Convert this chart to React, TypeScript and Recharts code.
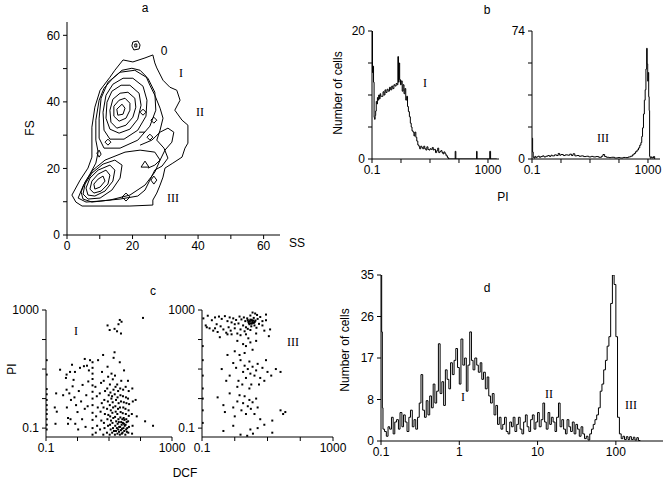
import { ScatterChart, Scatter, LineChart, Line, XAxis, YAxis } from "recharts";

const FONT = "Liberation Sans, Arial, Helvetica, sans-serif";
const SERIF = "Liberation Serif, Times New Roman, serif";

// ---- panel a: contour lines, [SS, FS] ----
const contourOuter = [
  [1.5, 12.0], [4.0, 16.5], [6.4, 20.1], [7.6, 23.4], [7.6, 32.4], [8.5, 38.4], [10.1, 43.5], [13.1, 47.4],
  [14.6, 49.5], [17.1, 52.6], [20.1, 52.0], [23.8, 53.2], [26.2, 54.1], [26.8, 51.7], [27.4, 50.2], [29.3, 46.5],
  [31.4, 44.4], [33.5, 43.5], [34.5, 40.5], [32.9, 37.5], [35.1, 34.5], [36.9, 33.0], [36.9, 27.6], [36.0, 26.1],
  [35.1, 23.4], [32.3, 21.6], [29.9, 20.1], [29.3, 17.4], [28.4, 15.0], [27.4, 12.6], [26.2, 10.5], [26.2, 9.0],
  [19.2, 8.7], [10.1, 8.7], [4.6, 8.7], [2.7, 9.9], [1.5, 12.0],
];
const contourBoth = [
  [3.4, 11.1], [4.9, 14.7], [7.0, 18.3], [8.8, 21.6], [9.5, 24.9], [8.8, 28.5], [8.8, 34.5], [9.8, 40.5],
  [11.3, 44.1], [14.0, 47.1], [16.8, 49.5], [19.8, 50.1], [22.3, 49.5], [24.1, 47.7], [25.3, 45.0], [26.8, 42.0],
  [28.4, 38.1], [29.3, 35.1], [28.4, 31.5], [27.4, 28.5], [29.6, 26.1], [30.8, 23.1], [29.0, 20.7], [26.8, 19.5],
  [25.3, 16.5], [23.8, 13.5], [21.6, 11.7], [16.2, 10.8], [10.1, 10.2], [5.8, 9.9], [3.4, 11.1],
];
const upperC = [
  [20.7, 49.5], [24.7, 47.1], [26.8, 42.9], [27.1, 37.5], [25.3, 32.7], [21.6, 28.5], [16.2, 26.1], [11.3, 26.1],
  [9.8, 29.1], [9.8, 35.1], [10.4, 41.1], [12.5, 45.9], [16.2, 48.9], [20.7, 49.5],
];
const upperB = [
  [20.1, 47.1], [23.2, 44.7], [24.4, 40.5], [24.1, 35.7], [21.6, 31.5], [17.4, 28.8], [13.1, 28.8], [11.3, 31.5],
  [11.0, 36.9], [11.9, 42.0], [14.0, 45.3], [17.1, 47.1], [20.1, 47.1],
];
const upperA = [
  [19.2, 45.0], [22.0, 42.6], [22.6, 39.0], [21.6, 34.8], [19.2, 31.8], [15.9, 30.6], [13.1, 31.8], [11.9, 35.1],
  [12.2, 39.9], [13.7, 43.2], [16.5, 45.0], [19.2, 45.0],
];
const upperCore1 = [
  [18.6, 42.9], [20.7, 41.1], [21.0, 38.4], [20.1, 35.4], [18.0, 33.0], [15.2, 32.1], [13.4, 33.9], [13.1, 37.5],
  [14.0, 40.8], [16.2, 42.6], [18.6, 42.9],
];
const upperCore2 = [
  [17.7, 41.1], [19.2, 39.6], [19.2, 37.5], [18.0, 35.1], [15.9, 34.2], [14.3, 35.7], [14.3, 38.7], [15.9, 40.5], [17.7, 41.1],
];
const upperCore3 = [[16.8, 39.3], [17.7, 38.1], [17.1, 36.3], [15.5, 36.0], [15.2, 37.8], [16.8, 39.3]];
const lowerC = [
  [17.7, 24.9], [22.3, 25.5], [26.8, 24.9], [28.4, 22.5], [26.8, 18.9], [23.8, 15.0], [19.2, 12.0], [13.1, 10.5],
  [7.6, 9.9], [4.9, 10.8], [4.3, 12.9], [5.5, 15.9], [7.9, 19.5], [11.6, 22.5], [17.7, 24.9],
];
const lowerB = [
  [14.6, 22.5], [16.8, 21.0], [16.2, 17.1], [13.7, 13.5], [10.1, 11.1], [6.4, 10.8], [4.9, 12.3], [5.5, 15.3],
  [7.6, 18.6], [11.0, 21.3], [14.6, 22.5],
];
const lowerA = [
  [13.1, 21.0], [14.6, 19.5], [14.0, 16.2], [11.6, 13.2], [8.5, 11.7], [6.4, 12.0], [5.8, 14.1], [7.0, 17.1], [9.5, 19.5], [13.1, 21.0],
];
const lowerCore1 = [
  [11.9, 19.5], [13.1, 18.0], [12.5, 15.3], [10.4, 13.2], [8.2, 12.6], [7.0, 13.8], [7.6, 16.2], [9.5, 18.3], [11.9, 19.5],
];
const lowerCore2 = [[11.0, 17.7], [11.6, 16.2], [10.1, 14.4], [8.5, 13.8], [8.2, 15.3], [9.5, 16.8], [11.0, 17.7]];
const midPath = [
  [22.3, 27.0], [25.9, 28.5], [28.4, 30.9], [30.8, 32.1], [32.6, 30.9], [32.0, 27.9], [29.9, 25.5], [28.4, 22.5], [26.8, 21.0], [24.7, 20.1],
];
const blobTop = [[20.1, 58.0], [21.6, 58.3], [22.3, 57.1], [22.0, 55.9], [20.4, 55.6], [19.8, 56.8], [20.1, 58.0]];
const blobTopIn = [[20.7, 57.4], [21.3, 57.4], [21.3, 56.5], [20.7, 56.5], [20.7, 57.4]];
const blob1 = [[26.5, 35.4], [27.4, 34.5], [26.5, 33.6], [25.6, 34.5], [26.5, 35.4]];
const blob2 = [[23.2, 37.8], [24.1, 36.9], [23.2, 36.0], [22.3, 36.9], [23.2, 37.8]];
const blob3 = [[12.5, 28.8], [13.4, 27.9], [12.5, 27.0], [11.6, 27.9], [12.5, 28.8]];
const blob4 = [[9.8, 25.5], [10.4, 24.3], [9.8, 23.4], [9.1, 24.6], [9.8, 25.5]];
const blob5 = [[23.8, 22.2], [25.0, 20.4], [22.6, 20.4], [23.8, 22.2]];
const blob6 = [[26.5, 17.7], [27.4, 16.5], [26.5, 15.3], [25.6, 16.5], [26.5, 17.7]];
const blob7 = [[18.0, 12.6], [19.2, 11.4], [18.0, 10.2], [16.8, 11.4], [18.0, 12.6]];
const blob8 = [[25.3, 30.3], [26.2, 29.4], [25.3, 28.5], [24.4, 29.4], [25.3, 30.3]];
const dash1 = [[22.0, 30.9], [23.8, 30.9]];
const aTicks = [0, 10, 20, 30, 40, 50, 60];

// ---- panel b: PI histograms, [PI, cells] ----
const bLeftHist = [
  [0.1, 20], [0.104, 13.5], [0.108, 14.5], [0.113, 12], [0.118, 6.5], [0.123, 6.2], [0.128, 6.8], [0.134, 7.5],
  [0.14, 9], [0.147, 8.6], [0.154, 9.6], [0.162, 9.2], [0.17, 10], [0.18, 9.4], [0.19, 10.2], [0.2, 9.8],
  [0.22, 9.8], [0.24, 10.5], [0.26, 10], [0.28, 10.8], [0.3, 10.4], [0.33, 10.9], [0.36, 10.6], [0.4, 11.2],
  [0.44, 10.8], [0.48, 11.4], [0.52, 11], [0.57, 11.6], [0.62, 11.4], [0.68, 11.8], [0.74, 11.6], [0.78, 16],
  [0.82, 12], [0.86, 15], [0.9, 12.4], [0.96, 11.6], [1.02, 12.2], [1.1, 10.6], [1.18, 11.6], [1.27, 10.2],
  [1.36, 11], [1.46, 9.2], [1.57, 9.8], [1.68, 8.2], [1.8, 7.4], [1.95, 6.6], [2.1, 5.6], [2.25, 5],
  [2.4, 4.4], [2.6, 4.2], [2.8, 3.6], [3, 4.2], [3.25, 3.4], [3.5, 2.8], [3.8, 2.2], [4.1, 2],
  [4.4, 1.6], [4.8, 2], [5.2, 1.8], [5.6, 1.6], [6.1, 2], [6.6, 1.6], [7.2, 1.4], [7.8, 1.9],
  [8.5, 1.5], [9.2, 1.4], [10, 1.6], [11, 1.5], [12, 1.8], [13, 1.4], [14, 1.5], [15.5, 1],
  [17, 1.3], [18.5, 1.7], [20, 1], [22, 1.2], [24, 1.3], [26, 1], [28, 0.8], [30, 1.1],
  [33, 0.8], [36, 0.5], [40, 0.2], [44, 0], [72, 0], [74, 1.2], [78, 0], [395, 0],
  [405, 1.2], [420, 0], [1100, 0], [1150, 1.2], [1230, 0], [2000, 0],
];
const bRightHist = [
  [0.1, 12], [0.105, 4], [0.11, 1], [0.118, 0.5], [0.125, 1.5], [0.135, 0.8], [0.145, 1.2], [0.16, 1.6],
  [0.18, 1], [0.2, 1.4], [0.23, 1.8], [0.26, 1.2], [0.3, 1.6], [0.35, 2], [0.4, 1.5], [0.45, 2.2],
  [0.5, 1.8], [0.6, 2.4], [0.7, 2], [0.8, 3.2], [0.9, 2.2], [1, 2.6], [1.2, 2], [1.4, 2.4],
  [1.7, 2.2], [2, 2.8], [2.3, 2], [2.6, 3], [3, 1.8], [3.5, 2], [4.2, 1.6], [5, 1.8],
  [6, 1.4], [7.5, 1.6], [9, 1.2], [11, 1.5], [13, 1.2], [16, 1.4], [20, 1], [25, 1.6],
  [28, 2.6], [32, 1.4], [37, 1], [45, 0.8], [55, 1], [70, 0.6], [90, 0.8], [110, 0.6],
  [140, 0.9], [170, 0.8], [210, 1.2], [250, 1.6], [290, 2.4], [330, 3.2], [370, 4.2], [420, 5.2],
  [470, 6.4], [520, 8], [570, 9.5], [610, 13], [650, 18], [700, 26], [750, 34], [800, 40],
  [850, 52], [900, 64], [940, 55], [980, 45], [1020, 50], [1060, 36], [1100, 28], [1140, 1.5],
  [1200, 0.5], [1300, 1.2], [1400, 0.6], [1550, 1.4], [1700, 0],
];

// ---- panel c: DCF vs PI dot plots, [DCF, PI] ----
const cLeftDots = [
  [0.105, 20], [0.105, 6.5], [0.105, 2.1], [0.105, 1.4], [0.105, 0.9], [0.105, 0.6], [0.105, 0.42], [0.105, 0.3],
  [0.105, 0.2], [0.105, 0.13], [0.105, 0.09], [0.19, 0.5], [0.2, 0.14], [0.22, 0.36], [0.21, 1.5], [0.35, 1.3],
  [0.46, 0.5], [0.5, 0.14], [0.5, 0.22], [0.28, 9.5], [0.43, 5], [0.58, 8], [0.67, 14], [0.83, 8],
  [1.2, 11], [1.6, 12.5], [2.0, 13], [2.3, 9], [1.7, 22], [2.5, 20], [4.5, 20], [0.45, 6.5],
  [0.75, 4.3], [0.45, 2], [0.55, 1.5], [0.62, 0.9], [0.7, 2.6], [0.8, 1.1], [0.9, 0.6], [1.0, 0.35],
  [1.1, 1.8], [1.3, 0.8], [1.45, 2.9], [1.7, 0.45], [1.9, 1.3], [0.6, 0.2], [0.85, 0.14], [1.05, 0.09],
  [1.4, 0.2], [1.8, 0.11], [2.1, 0.55], [2.2, 3.8], [3, 0.06], [3, 0.1], [3, 0.19], [3, 0.33],
  [3, 0.6], [3, 1.0], [3, 1.7], [3, 2.8], [3, 4.6], [3, 7], [3, 11], [3, 17],
  [9, 300], [10.5, 210], [15, 230], [20, 330], [22, 460], [25, 400], [24, 160], [18, 190],
  [15, 37], [22, 17], [120, 540], [250, 0.12], [140, 0.17], [6, 8], [9, 12], [12, 7],
  [14, 24], [6.5, 30], [30, 9], [40, 4], [3.8, 0.07], [4.2, 0.12], [3.9, 0.25], [4.4, 0.5],
  [4.1, 1.2], [3.7, 2.5], [5.2, 0.09], [5.7, 0.18], [5.4, 0.36], [5.9, 0.7], [5.1, 1.5], [5.6, 3.4],
  [6.6, 0.06], [7.2, 0.1], [6.9, 0.15], [7.4, 0.3], [6.7, 0.5], [7.1, 0.9], [7.5, 1.8], [6.8, 4],
  [8.6, 0.07], [9.3, 0.12], [8.9, 0.2], [9.5, 0.28], [8.7, 0.45], [9.2, 0.8], [9.8, 1.3], [8.8, 2.2],
  [9.4, 5.5], [10.5, 0.06], [11.3, 0.09], [10.8, 0.13], [11.6, 0.18], [10.9, 0.25], [11.4, 0.4], [10.6, 0.6],
  [11.9, 1], [11.1, 1.6], [10.7, 3], [12.6, 0.07], [13.4, 0.1], [12.9, 0.15], [13.7, 0.22], [12.8, 0.33],
  [13.5, 0.5], [13.1, 0.75], [12.5, 1.2], [13.9, 2], [13.2, 4.5], [15.4, 0.06], [16.6, 0.08], [15.8, 0.12],
  [16.9, 0.17], [15.6, 0.24], [16.3, 0.36], [15.9, 0.55], [16.7, 0.9], [15.2, 1.4], [16.1, 2.5], [15.5, 6],
  [18.5, 0.065], [19.6, 0.09], [18.8, 0.14], [19.9, 0.2], [18.4, 0.3], [19.3, 0.45], [20.2, 0.7], [18.7, 1.1],
  [19.5, 1.8], [18.2, 3], [22.1, 0.06], [23.8, 0.085], [22.6, 0.11], [24.3, 0.16], [22.9, 0.23], [23.4, 0.35],
  [22.3, 0.5], [24, 0.8], [23.1, 1.3], [22.7, 2.2], [24.5, 4], [27, 0.07], [28.8, 0.1], [27.6, 0.15],
  [29.2, 0.22], [27.3, 0.32], [28.4, 0.5], [29.5, 0.75], [27.8, 1.2], [28.1, 2], [33, 0.06], [35, 0.09],
  [33.6, 0.13], [35.4, 0.2], [34.2, 0.3], [33.3, 0.45], [35.8, 0.7], [34.5, 1.1], [33.8, 2.5], [41, 0.07],
  [43, 0.11], [40.5, 0.17], [42.5, 0.26], [41.8, 0.4], [43.5, 0.65], [40.2, 1], [42.2, 1.8], [54, 0.065],
  [56, 0.12], [53, 0.3], [57, 0.8], [55, 2.2], [70, 0.9], [76, 0.25], [20.8, 0.075], [25.5, 0.065],
  [30.5, 0.08], [26, 0.095], [31.5, 0.12], [21, 0.11], [37, 0.075], [29.8, 0.14], [38, 0.1], [25.2, 0.13],
  [17.8, 0.1], [14.4, 0.08], [36.5, 0.16], [30.8, 0.19], [26.5, 0.2], [20.5, 0.16],
];
const cRightDots = [
  [0.11, 520], [0.13, 300], [0.15, 640], [0.17, 240], [0.2, 450], [0.22, 200], [0.25, 560], [0.28, 330],
  [0.3, 180], [0.33, 600], [0.37, 280], [0.4, 500], [0.45, 220], [0.5, 620], [0.55, 170], [0.6, 420],
  [0.65, 260], [0.7, 560], [0.75, 200], [0.8, 380], [0.9, 520], [1.0, 240], [1.1, 460], [1.2, 160],
  [1.3, 350], [1.4, 600], [1.5, 220], [1.6, 480], [1.8, 300], [1.9, 560], [2.0, 190], [2.1, 420],
  [2.2, 260], [2.4, 520], [2.5, 230], [2.6, 400], [2.8, 330], [3.0, 470], [3.2, 280], [3.4, 430],
  [3.6, 370], [3.8, 540], [4.0, 300], [4.3, 440], [4.6, 250], [5.0, 500], [5.5, 340], [6, 580],
  [7, 300], [8, 200], [9, 450], [0.14, 260], [0.25, 240], [0.6, 150], [1.0, 330], [2.2, 150],
  [3.0, 210], [4.5, 160], [7, 420], [12, 220], [3.5, 820], [4.2, 760], [4.8, 680], [9, 700],
  [3, 650], [2.7, 360], [2.9, 420], [3.1, 355], [3.3, 465], [3.5, 380], [3.7, 440], [3.9, 370],
  [2.5, 455], [3.3, 345], [4.1, 400], [0.35, 120], [0.8, 150], [1.2, 90], [1.5, 140], [1.8, 70],
  [2.2, 60], [2.6, 110], [3, 80], [3.5, 45], [1.0, 40], [0.6, 30], [1.4, 30], [2.0, 35],
  [4.5, 90], [11, 130], [0.4, 10], [0.7, 6], [0.9, 16], [1.1, 11], [1.3, 4], [1.5, 20],
  [1.8, 8], [2, 13], [2.2, 5], [2.5, 10], [2.8, 18], [3.0, 7], [3.2, 3], [3.5, 12],
  [4, 6], [4.5, 9], [5, 15], [6, 5], [7, 11], [8, 4], [10, 8], [13, 6],
  [18, 10], [25, 8], [1.2, 2.5], [1.7, 3], [2.8, 2.2], [5.5, 3], [0.55, 4], [9, 20],
  [0.3, 1.1], [0.45, 0.6], [0.5, 0.35], [0.7, 1.5], [0.9, 0.5], [1.0, 0.25], [1.2, 0.8], [1.4, 1.3],
  [1.6, 0.4], [1.8, 0.7], [2.0, 1.2], [2.2, 0.3], [2.5, 0.55], [2.8, 0.9], [3.1, 0.45], [3.5, 0.75],
  [4, 0.3], [4.5, 1.0], [5, 0.5], [6, 0.2], [25, 0.4], [30, 0.3], [35, 0.35], [14, 0.18],
  [0.45, 0.08], [0.9, 0.12], [1.5, 0.06], [2.4, 0.055], [3, 0.09], [3.6, 0.065], [5, 0.1], [14, 0.07],
  [8, 0.13], [0.105, 60], [0.105, 20], [0.105, 6], [0.105, 2.2], [0.105, 1], [0.105, 0.4], [0.105, 0.15],
];

// ---- panel d: PI histogram, [PI, cells] ----
const dHist = [
  [0.1, 35], [0.102, 23], [0.104, 7], [0.106, 2.5], [0.111, 2], [0.117, 1], [0.123, 3], [0.129, 2.5],
  [0.136, 5], [0.143, 1.5], [0.15, 4], [0.158, 4.5], [0.167, 2.5], [0.175, 6], [0.185, 3], [0.194, 5.5],
  [0.204, 4], [0.215, 2], [0.227, 5], [0.238, 6.5], [0.251, 3], [0.264, 4.5], [0.278, 2.5], [0.293, 5],
  [0.308, 8], [0.324, 14], [0.341, 6.5], [0.359, 5], [0.378, 8.5], [0.398, 5.5], [0.419, 9.5], [0.441, 7],
  [0.464, 12], [0.488, 8], [0.514, 10.5], [0.541, 20.5], [0.569, 10], [0.599, 12.5], [0.631, 7.5], [0.664, 15],
  [0.699, 13], [0.736, 11], [0.774, 16.5], [0.815, 14], [0.858, 17], [0.903, 19.5], [0.95, 15.5], [1.0, 12],
  [1.05, 21.5], [1.11, 16], [1.17, 17.5], [1.23, 10.5], [1.29, 16], [1.36, 23], [1.43, 17], [1.5, 15],
  [1.58, 17.5], [1.67, 16], [1.75, 14.5], [1.85, 16.5], [1.94, 13], [2.04, 14.5], [2.15, 11], [2.27, 13.5],
  [2.38, 9.5], [2.51, 8], [2.64, 10], [2.78, 5.5], [2.93, 7.5], [3.08, 3.5], [3.24, 5], [3.41, 2.5],
  [3.59, 3.5], [3.78, 5], [3.98, 2], [4.19, 1.5], [4.41, 4], [4.64, 3], [4.88, 5], [5.14, 2],
  [5.41, 3.5], [5.69, 5], [5.99, 2.5], [6.31, 1.5], [6.64, 4], [6.99, 5.5], [7.36, 3], [7.74, 2],
  [8.15, 4.5], [8.58, 5.5], [9.03, 2.5], [9.5, 4], [10, 6], [10.5, 3], [11.1, 4.5], [11.7, 8],
  [12.3, 4], [12.9, 2.5], [13.6, 6], [14.3, 3.5], [15, 5], [15.8, 4], [16.7, 2], [17.5, 5],
  [18.5, 8], [19.4, 3], [20.4, 4.5], [21.5, 2.5], [22.7, 1.5], [23.8, 4.5], [25.1, 3], [26.4, 2],
  [27.8, 4], [29.3, 1.5], [30.8, 3.5], [32.4, 2.5], [34.1, 1], [35.9, 3], [37.8, 1.5], [39.8, 0.5],
  [41.9, 1], [44.1, 0.2], [46.4, 1.5], [48.8, 2.5], [51.4, 3.5], [54.1, 4.5], [56.9, 5.5], [59.9, 7],
  [63.1, 10.5], [66.4, 12], [69.9, 15], [73.6, 17], [77.4, 20], [81.5, 22], [85.8, 29], [90.3, 35],
  [95, 33], [100, 22], [105, 5], [111, 1.5], [117, 0.5], [123, 1], [129, 0.3], [136, 0.9],
  [143, 0.3], [150, 0.9], [158, 0.3], [167, 0.8], [175, 0.2], [185, 0.7], [194, 0.1], [204, 0],
];

const contours = [
  contourOuter, contourBoth, upperC, upperB, upperA, upperCore1, upperCore2, upperCore3,
  lowerC, lowerB, lowerA, lowerCore1, lowerCore2, midPath, blobTop, blobTopIn,
  blob1, blob2, blob3, blob4, blob5, blob6, blob7, blob8, dash1,
].map((c) => c.map(([x, y]) => ({ x, y })));

const toHist = (h: number[][]) => h.map(([pi, count]) => ({ pi, count }));
const toDots = (d: number[][]) => d.map(([x, y]) => ({ x, y }));

const axisStyle = {
  tick: { fill: "#000", fontSize: 12, fontFamily: FONT },
  axisLine: { stroke: "#000" },
  tickLine: { stroke: "#000" },
  tickSize: 4,
  interval: 0 as const,
  allowDataOverflow: true,
};

const decadeLabel = (v: number) => (v === 0.1 ? "0.1" : v === 1000 ? "1000" : "");
const NoDot = () => <g />;
const Dot = (props: any) => <rect x={props.cx - 1} y={props.cy - 1} width={2} height={2} fill="#000" />;

// plotLeft/plotRight are page x of the plot edges
function DotPlot({ data, left, plotLeft, plotRight }: { data: number[][]; left: number; plotLeft: number; plotRight: number }) {
  const width = 205;
  return (
    <div style={{ position: "absolute", left, top: 285 }}>
      <ScatterChart width={width} height={175} margin={{ top: 25, right: width - (plotRight - left), bottom: 0, left: 0 }}>
        <XAxis type="number" dataKey="x" scale="log" domain={[0.1, 1000]} ticks={[0.1, 1, 10, 100, 1000]}
          tickFormatter={decadeLabel} height={23} tickMargin={2} {...axisStyle} />
        <YAxis type="number" dataKey="y" scale="log" domain={[0.05, 1000]} ticks={[0.1, 1, 10, 100, 1000]}
          tickFormatter={decadeLabel} width={plotLeft - left} tickMargin={3} {...axisStyle} />
        <Scatter data={toDots(data)} shape={Dot} isAnimationActive={false} />
      </ScatterChart>
    </div>
  );
}

export default function App() {
  return (
    <div style={{ position: "absolute", left: 0, top: 0, width: 666, height: 483, background: "#fff", overflow: "hidden" }}>
      {/* a */}
      <div style={{ position: "absolute", left: 0, top: 0 }}>
        <ScatterChart width={300} height={260} margin={{ top: 22, right: 20, bottom: 0, left: 0 }}>
          <XAxis type="number" dataKey="x" domain={[0, 65]} ticks={aTicks}
            tickFormatter={(v: number) => (v % 20 === 0 ? String(v) : "")} height={25} tickMargin={2} {...axisStyle} />
          <YAxis type="number" dataKey="y" domain={[0, 64]} ticks={aTicks}
            tickFormatter={(v: number) => (v % 20 === 0 ? String(v) : "")} width={67} tickMargin={3} {...axisStyle} />
          {contours.map((c, i) => (
            <Scatter key={i} data={c} line={{ stroke: "#000", strokeWidth: 1 }} lineType="joint" shape={NoDot} isAnimationActive={false} />
          ))}
        </ScatterChart>
      </div>

      {/* b left */}
      <div style={{ position: "absolute", left: 300, top: 0 }}>
        <LineChart width={205} height={185} data={toHist(bLeftHist)} margin={{ top: 31, right: 6, bottom: 0, left: 0 }}>
          <XAxis type="number" dataKey="pi" scale="log" domain={[0.1, 2400]} ticks={[0.1, 1, 10, 100, 1000]}
            tickFormatter={decadeLabel} height={26} tickMargin={2} {...axisStyle} />
          <YAxis type="number" domain={[0, 20]} ticks={[0, 5, 10, 15, 20]}
            tickFormatter={(v: number) => (v === 0 || v === 20 ? String(v) : "")} width={72} tickMargin={3} {...axisStyle} />
          <Line type="stepAfter" dataKey="count" stroke="#000" strokeWidth={1} dot={false} isAnimationActive={false} />
        </LineChart>
      </div>

      {/* b right */}
      <div style={{ position: "absolute", left: 505, top: 0 }}>
        <LineChart width={161} height={185} data={toHist(bRightHist)} margin={{ top: 31, right: 6, bottom: 0, left: 0 }}>
          <XAxis type="number" dataKey="pi" scale="log" domain={[0.1, 2600]} ticks={[0.1, 1, 10, 100, 1000]}
            tickFormatter={decadeLabel} height={26} tickMargin={2} {...axisStyle} />
          <YAxis type="number" domain={[0, 74]} ticks={[0, 18.5, 37, 55.5, 74]}
            tickFormatter={(v: number) => (v === 0 || v === 74 ? String(v) : "")} width={27} tickMargin={3} {...axisStyle} />
          <Line type="stepAfter" dataKey="count" stroke="#000" strokeWidth={1} dot={false} isAnimationActive={false} />
        </LineChart>
      </div>

      {/* c */}
      <DotPlot data={cLeftDots} left={0} plotLeft={46} plotRight={172} />
      <DotPlot data={cRightDots} left={150} plotLeft={202} plotRight={333} />

      {/* d */}
      <div style={{ position: "absolute", left: 330, top: 260 }}>
        <LineChart width={336} height={215} data={toHist(dHist)} margin={{ top: 15, right: 3, bottom: 0, left: 0 }}>
          <XAxis type="number" dataKey="pi" scale="log" domain={[0.1, 400]} ticks={[0.1, 1, 10, 100]}
            tickFormatter={(v: number) => String(v)} height={34} tickMargin={2} {...axisStyle} />
          <YAxis type="number" domain={[0, 35]} ticks={[0, 8.75, 17.5, 26.25, 35]}
            tickFormatter={(v: number) => String(Math.floor(v))} width={51} tickMargin={3} {...axisStyle} />
          <Line type="stepAfter" dataKey="count" stroke="#000" strokeWidth={1} dot={false} isAnimationActive={false} />
        </LineChart>
      </div>

      {/* titles, axis names, population labels */}
      <svg width={666} height={483} style={{ position: "absolute", left: 0, top: 0, pointerEvents: "none" }}>
        <g fontFamily={FONT} fontSize={12} textAnchor="middle">
          <text x={145} y={12} fill="#000">a</text>
          <text x={487} y={14} fill="#000">b</text>
          <text x={153} y={295} fill="#000">c</text>
          <text x={487} y={292} fill="#000">d</text>
          <text x={30} y={132} fill="#000" transform="rotate(-90 30 128)">FS</text>
          <text x={297} y={247} fill="#000">SS</text>
          <text x={338} y={97} fill="#000" transform="rotate(-90 338 93)">Number of cells</text>
          <text x={503} y={201} fill="#000">PI</text>
          <text x={12} y={373} fill="#000" transform="rotate(-90 12 369)">PI</text>
          <text x={185} y={477} fill="#000">DCF</text>
          <text x={345} y={354} fill="#000" transform="rotate(-90 345 350)">Number of cells</text>
          <text x={164} y={55} fill="#000">0</text>
        </g>
        <g fontFamily={SERIF} fontSize={12} textAnchor="middle">
          <text x={181} y={77} fill="#000">I</text>
          <text x={200} y={116} fill="#000">II</text>
          <text x={173} y={202} fill="#000">III</text>
          <text x={425} y={87} fill="#000">I</text>
          <text x={603} y={142} fill="#000">III</text>
          <text x={76} y={335} fill="#000">I</text>
          <text x={293} y={346} fill="#000">III</text>
          <text x={463} y={401} fill="#000">I</text>
          <text x={549} y={398} fill="#000">II</text>
          <text x={631} y={409} fill="#000">III</text>
        </g>
      </svg>
    </div>
  );
}
